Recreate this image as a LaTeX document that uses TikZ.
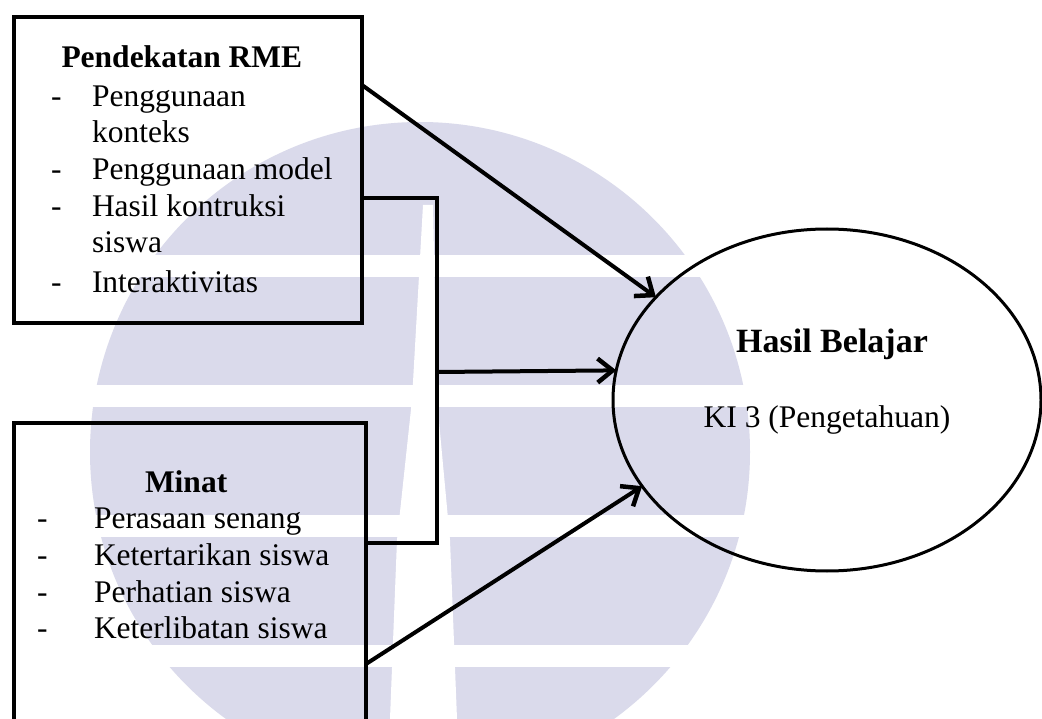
\documentclass[tikz,border=0pt]{standalone}
\usepackage{fontspec}
\setmainfont{Liberation Serif}
\usetikzlibrary{arrows.meta,shapes.geometric}
\definecolor{wm}{RGB}{218,218,235}
\begin{document}
\begin{tikzpicture}[x=1pt,y=-1pt,
  boxframe/.style={draw=black, line width=4pt, inner sep=0pt, outer sep=0pt},
  txt/.style={anchor=base west, inner sep=0pt, outer sep=0pt, font=\fontsize{31.5}{37}\selectfont},
  ttl/.style={txt, font=\fontsize{31.5}{37}\selectfont\bfseries},
  link/.style={line width=4pt},
  conn/.style={line width=4pt, -{Straight Barb[length=15pt,width=24pt,line width=4.5pt]}}]
% canvas
\fill[white] (0,0) rectangle (1042,719);
\useasboundingbox (0,0) rectangle (1042,719);
% watermark
\begin{scope}
  \clip (0,0) rectangle (1042,719);
  \fill[wm] (420,452) circle[radius=330pt];
  \fill[white] (0,255) rectangle (1042,277);
  \fill[white] (0,385) rectangle (1042,407);
  \fill[white] (0,515) rectangle (1042,537);
  \fill[white] (0,645) rectangle (1042,667);
  \fill[white] (423,205) -- (433,205) -- (437,400) -- (450,540) -- (457,719)
     -- (390,719) -- (397,540) -- (412,400) -- cycle;
\end{scope}
% boxes
\node[boxframe, minimum width=348pt, minimum height=306pt] (rme) at (188,170) {};
\node[boxframe, minimum width=352pt, minimum height=298pt] (minat) at (190,572) {};
\node[draw, ellipse, line width=3pt, minimum width=428pt, minimum height=342pt,
      inner sep=0pt, outer sep=0pt] (hb) at (827,400) {};
% box 1 text
\node[ttl] (t1) at (61.5,68) {Pendekatan RME};
\node[txt] (d1) at (51,107) {-};
\node[txt] (i1) at (92,107) {Penggunaan};
\node[txt] (i1b) at (92,143) {konteks};
\node[txt] (d2) at (51,180) {-};
\node[txt] (i2) at (92,180) {Penggunaan model};
\node[txt] (d3) at (51,217) {-};
\node[txt] (i3) at (92,217) {Hasil kontruksi};
\node[txt] (i3b) at (92,253) {siswa};
\node[txt] (d4) at (51,293) {-};
\node[txt] (i4) at (92,293) {Interaktivitas};
% box 2 text
\node[ttl] (t2) at (145,492) {Minat};
\node[txt] (e1) at (37,528) {-};
\node[txt] (j1) at (94,528) {Perasaan senang};
\node[txt] (e2) at (37,565) {-};
\node[txt] (j2) at (94,565) {Ketertarikan siswa};
\node[txt] (e3) at (37,602) {-};
\node[txt] (j3) at (94,602) {Perhatian siswa};
\node[txt] (e4) at (37,638) {-};
\node[txt] (j4) at (94,638) {Keterlibatan siswa};
% ellipse text
\node[anchor=base, inner sep=0pt, font=\fontsize{34}{40}\selectfont\bfseries] (hbt) at (832,353) {Hasil Belajar};
\node[anchor=base, inner sep=0pt, font=\fontsize{31.5}{37}\selectfont] (ki) at (827,427) {KI 3 (Pengetahuan)};
% connectors
\coordinate (a1s) at (362,85);
\coordinate (brT) at (437,198);
\coordinate (brB) at (437,543);
\coordinate (mid) at (437,372);
\coordinate (a3s) at (366,664);
\draw[conn] (a1s) -- (hb.149);
\draw[link] (rme.east |- brT) -- (brT) -- (brB) -- (minat.east |- brB);
\draw[conn] (mid) -- (hb.172);
\draw[conn] (a3s) -- (hb.205);
\end{tikzpicture}
\end{document}
